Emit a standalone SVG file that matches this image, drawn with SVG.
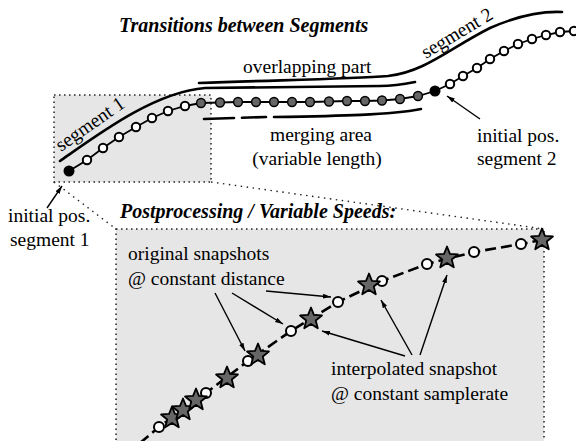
<svg xmlns="http://www.w3.org/2000/svg" width="576" height="441" viewBox="0 0 576 441" font-family="'Liberation Serif', 'DejaVu Serif', serif">
  <style>
    text { font-family: 'Liberation Serif', 'DejaVu Serif', serif; font-size: 19.5px; fill: #000; }
    .head { font-weight: bold; font-style: italic; font-size: 20px; }
    .zone { fill: #e6e6e6; stroke: #222; stroke-width: 1.5; stroke-dasharray: 1.5 3.5; }
    .guide { fill: none; stroke: #222; stroke-width: 1.4; stroke-dasharray: 1.5 4.5; }
    .bracket { fill: none; stroke: #000; stroke-width: 2.6; stroke-linecap: round; }
    .chain { fill: none; stroke: #000; stroke-width: 1.8; }
    .path2 { fill: none; stroke: #000; stroke-width: 2.6; stroke-dasharray: 11 5; }
    .open { fill: #fff; stroke: #000; stroke-width: 2; }
    .merged { fill: #666; stroke: #000; stroke-width: 1.5; }
    .start { fill: #000; }
    .arrow { fill: none; stroke: #000; stroke-width: 1.4; marker-end: url(#ah); }
    .star { fill: #666; stroke: #000; stroke-width: 1.8; stroke-linejoin: round; }
  </style>
  <defs>
    <marker id="ah" viewBox="0 0 10 10" refX="10" refY="5" markerWidth="8" markerHeight="8" markerUnits="userSpaceOnUse" orient="auto">
      <path d="M0,2 L10,5 L0,8 z" fill="#000"/>
    </marker>
    <path id="star" d="M0,-11.5 L2.94,-4.05 10.94,-3.55 4.76,1.55 6.76,9.3 0,5 -6.76,9.3 -4.76,1.55 -10.94,-3.55 -2.94,-4.05 Z"/>
  </defs>

  <!-- detail zones and perspective guides -->
  <g id="zones">
    <rect class="zone" x="116" y="229" width="428" height="230"/>
    <rect class="zone" x="54" y="95" width="157" height="87"/>
    <path class="guide" d="M54,182 L116,229 M211,182 L544,229"/>
  </g>

  <!-- headings -->
  <g id="headings">
    <text class="head" x="119" y="32">Transitions between Segments</text>
    <text class="head" x="120" y="218">Postprocessing / Variable Speeds:</text>
  </g>

  <!-- trajectory brackets -->
  <g id="brackets">
    <path id="segment1-line" class="bracket" d="M60,161 C100,133 155,92 205,88 L380,86 C395,86 405,84 415,82"/>
    <path id="segment2-line" class="bracket" d="M199,83 C280,80 350,79 388,76 C425,72 450,48 490,28 C515,17 540,11 562,12"/>
    <path id="merging-dash" class="bracket" stroke-dasharray="30 8" stroke-linecap="butt" d="M204,119 L266,117"/>
    <path id="merging-line" class="bracket" d="M274,117 C340,116 390,115 421,109"/>
  </g>

  <!-- snapshot chain of the upper view -->
  <g id="chain">
    <polyline class="chain" points="69,171 87,160 103,148 119,137 136,127 152,118 168,111 185,106 201,103 220,102.5 238,102 256,102 274,102 292,102 310,102 329,101.5 347,101 365,101 382,100.5 400,99 418,96 435,91 450,84 463,76 477,68 490,59 504,51 518,44 532,39 546,35 560,32 574,31"/>
    <g id="seg1-points">
      <circle class="open" cx="87" cy="160" r="4.2"/>
      <circle class="open" cx="103" cy="148" r="4.2"/>
      <circle class="open" cx="119" cy="137" r="4.2"/>
      <circle class="open" cx="136" cy="127" r="4.2"/>
      <circle class="open" cx="152" cy="118" r="4.2"/>
      <circle class="open" cx="168" cy="111" r="4.2"/>
      <circle class="open" cx="185" cy="106" r="4.2"/>
    </g>
    <g id="merged-points">
      <circle class="merged" cx="201" cy="103" r="4.4"/>
      <circle class="merged" cx="220" cy="102.5" r="4.4"/>
      <circle class="merged" cx="238" cy="102" r="4.4"/>
      <circle class="merged" cx="256" cy="102" r="4.4"/>
      <circle class="merged" cx="274" cy="102" r="4.4"/>
      <circle class="merged" cx="292" cy="102" r="4.4"/>
      <circle class="merged" cx="310" cy="102" r="4.4"/>
      <circle class="merged" cx="329" cy="101.5" r="4.4"/>
      <circle class="merged" cx="347" cy="101" r="4.4"/>
      <circle class="merged" cx="365" cy="101" r="4.4"/>
      <circle class="merged" cx="382" cy="100.5" r="4.4"/>
      <circle class="merged" cx="400" cy="99" r="4.4"/>
      <circle class="merged" cx="418" cy="96" r="4.4"/>
    </g>
    <g id="seg2-points">
      <circle class="open" cx="450" cy="84" r="4.2"/>
      <circle class="open" cx="463" cy="76" r="4.2"/>
      <circle class="open" cx="477" cy="68" r="4.2"/>
      <circle class="open" cx="490" cy="59" r="4.2"/>
      <circle class="open" cx="504" cy="51" r="4.2"/>
      <circle class="open" cx="518" cy="44" r="4.2"/>
      <circle class="open" cx="532" cy="39" r="4.2"/>
      <circle class="open" cx="546" cy="35" r="4.2"/>
      <circle class="open" cx="560" cy="32" r="4.2"/>
      <circle class="open" cx="574" cy="31" r="4.2"/>
    </g>
    <circle id="start1" class="start" cx="69" cy="171" r="5.5"/>
    <circle id="start2" class="start" cx="435" cy="91" r="5.5"/>
  </g>

  <!-- labels of the upper view -->
  <g id="upper-labels">
    <text transform="translate(61,152) rotate(-35)">segment 1</text>
    <text transform="translate(426,59) rotate(-31)">segment 2</text>
    <text x="243" y="72.5">overlapping part</text>
    <text x="321" y="141" text-anchor="middle">merging area</text>
    <text x="317" y="165" text-anchor="middle">(variable length)</text>
    <text x="477" y="141.5">initial pos.</text>
    <text x="477" y="165">segment 2</text>
    <text x="8" y="222">initial pos.</text>
    <text x="10" y="246">segment 1</text>
  </g>

  <!-- resampled trajectory of the lower view -->
  <g id="resampled">
    <polyline class="path2" points="140,443 159,427 206,393 248,361 291,331 338,302 382,281 427,264 474,252 521,244 542,240"/>
    <g id="snapshots">
      <circle class="open" cx="159" cy="427" r="5"/>
      <circle class="open" cx="206" cy="393" r="5"/>
      <circle class="open" cx="248" cy="361" r="5"/>
      <circle class="open" cx="291" cy="331" r="5"/>
      <circle class="open" cx="338" cy="302" r="5"/>
      <circle class="open" cx="382" cy="281" r="5"/>
      <circle class="open" cx="427" cy="264" r="5"/>
      <circle class="open" cx="474" cy="252" r="5"/>
      <circle class="open" cx="521" cy="244" r="5"/>
    </g>
    <g id="interpolated">
      <use href="#star" class="star" x="172" y="418"/>
      <use href="#star" class="star" x="183" y="410"/>
      <use href="#star" class="star" x="196" y="400"/>
      <use href="#star" class="star" x="227" y="378"/>
      <use href="#star" class="star" x="258" y="355"/>
      <use href="#star" class="star" x="311" y="319"/>
      <use href="#star" class="star" x="369" y="285"/>
      <use href="#star" class="star" x="447" y="258"/>
      <use href="#star" class="star" x="542" y="240"/>
    </g>
  </g>

  <!-- labels of the lower view -->
  <g id="lower-labels">
    <text x="128" y="260">original snapshots</text>
    <text x="128" y="285">@ constant distance</text>
    <text x="331" y="375">interpolated snapshot</text>
    <text x="331" y="400">@ constant samplerate</text>
  </g>

  <!-- pointer arrows -->
  <g id="connectors">
    <line class="arrow" x1="47" y1="208" x2="62" y2="186"/>
    <line class="arrow" x1="480" y1="119" x2="447" y2="96"/>
    <line class="arrow" x1="215" y1="293" x2="245" y2="351"/>
    <line class="arrow" x1="232" y1="293" x2="283" y2="324"/>
    <line class="arrow" x1="266" y1="291" x2="331" y2="297"/>
    <line class="arrow" x1="405" y1="356" x2="322" y2="331"/>
    <line class="arrow" x1="412" y1="355" x2="381" y2="300"/>
    <line class="arrow" x1="420" y1="355" x2="447" y2="275"/>
  </g>
</svg>
